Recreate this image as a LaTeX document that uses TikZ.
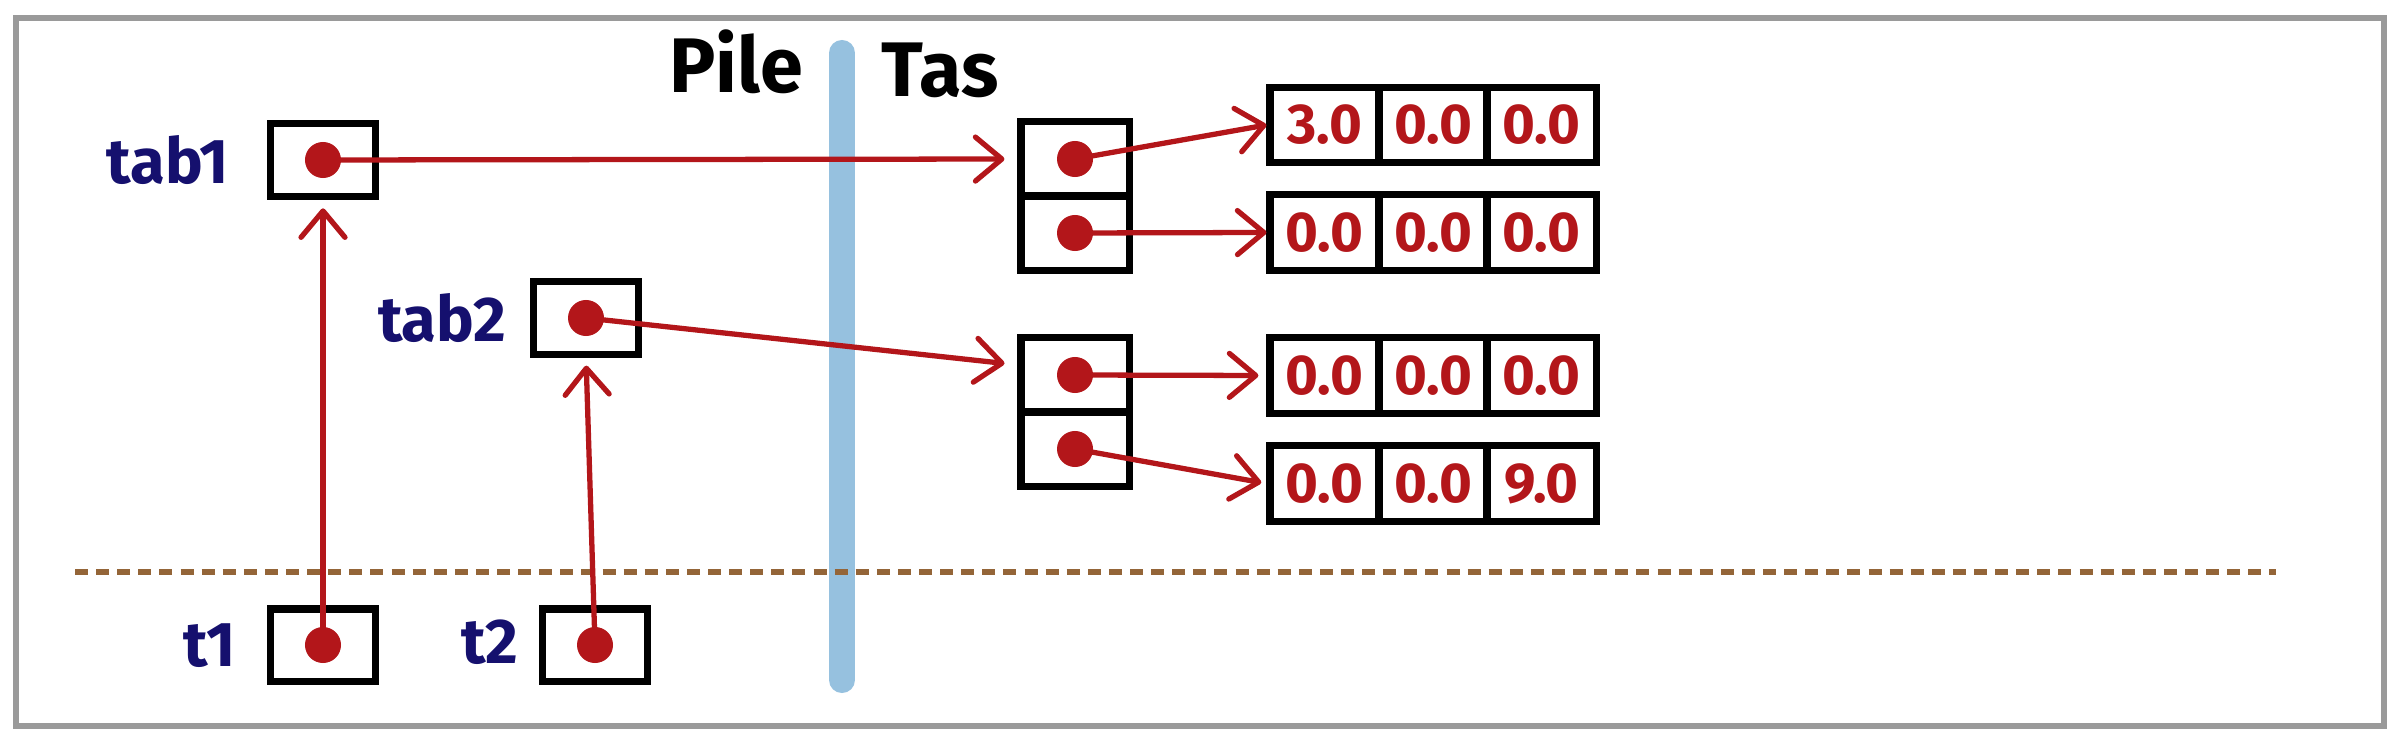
\documentclass[tikz,border=0pt]{standalone}
\usepackage{fontspec}
\setmainfont{Fira Sans}
\usetikzlibrary{arrows.meta}
\definecolor{ptrred}{HTML}{B3161A}
\definecolor{navyc}{HTML}{15106E}
\definecolor{barblue}{HTML}{96C1DF}
\definecolor{sepbrown}{HTML}{946538}
\definecolor{framegray}{HTML}{9A9A9A}
\begin{document}
\begin{tikzpicture}[x=0.01cm,y=-0.01cm,
  ptrbox/.style={draw=black, line width=2pt, minimum width=1.04cm, minimum height=0.72cm, inner sep=0pt},
  pcell/.style={draw=black, line width=2pt, minimum width=1.08cm, minimum height=0.74cm, inner sep=0pt},
  dcell/.style={draw=black, line width=2pt, minimum width=1.09cm, minimum height=0.75cm, inner sep=0pt,
                text=ptrred, font=\fontsize{16}{16}\selectfont\bfseries},
  ptdot/.style={circle, fill=ptrred, minimum size=0.36cm, inner sep=0pt},
  varlabel/.style={text=navyc, font=\fontsize{18}{18}\selectfont\bfseries, inner sep=0pt},
  zonelabel/.style={text=black, font=\fontsize{22}{22}\selectfont\bfseries, inner sep=0pt},
  refarrow/.style={draw=ptrred, line width=1.5pt, -{Straight Barb[length=7.5pt,width=12.5pt,round]}}
]
\useasboundingbox (0,0) rectangle (2392,740);
% frame
\draw[framegray, line width=1.7pt] (16,18) rectangle (2384,726);
% stack / heap separator
\draw[barblue, line width=7.4pt, line cap=round] (842,53) -- (842,680);
% dashed separator
\draw[sepbrown, line width=1.7pt, dash pattern=on 3.7pt off 2.3pt] (75,572) -- (2276,572);

% zone labels
\node[zonelabel] (pile) at (736,62) {Pile};
\node[zonelabel] (tas) at (940,70) {Tas};

% stack variables
\node[ptrbox] (tab1) at (323,160) {};
\node[ptdot] (dtab1) at (tab1.center) {};
\node[varlabel] (ltab1) at (168,160) {tab1};

\node[ptrbox] (tab2) at (586,318) {};
\node[ptdot] (dtab2) at (tab2.center) {};
\node[varlabel] (ltab2) at (442,318) {tab2};

\node[ptrbox] (t1) at (323,645) {};
\node[ptdot] (dt1) at (t1.center) {};
\node[varlabel] (lt1) at (210,646) {t1};

\node[ptrbox] (t2) at (595,645) {};
\node[ptdot] (dt2) at (t2.center) {};
\node[varlabel] (lt2) at (490,642) {t2};

% heap pointer arrays
\node[pcell] (p1a) at (1075,159) {};
\node[pcell] (p1b) at (1075,233) {};
\node[pcell] (p2a) at (1075,375) {};
\node[pcell] (p2b) at (1075,449) {};
\node[ptdot] (dp1a) at (p1a.center) {};
\node[ptdot] (dp1b) at (p1b.center) {};
\node[ptdot] (dp2a) at (p2a.center) {};
\node[ptdot] (dp2b) at (p2b.center) {};

% heap double arrays
\node[dcell] (a1c1) at (1324.5,125) {3.0};
\node[dcell] (a1c2) at (1433,125) {0.0};
\node[dcell] (a1c3) at (1541.5,125) {0.0};
\node[dcell] (a2c1) at (1324.5,232.5) {0.0};
\node[dcell] (a2c2) at (1433,232.5) {0.0};
\node[dcell] (a2c3) at (1541.5,232.5) {0.0};
\node[dcell] (a3c1) at (1324.5,375.5) {0.0};
\node[dcell] (a3c2) at (1433,375.5) {0.0};
\node[dcell] (a3c3) at (1541.5,375.5) {0.0};
\node[dcell] (a4c1) at (1324.5,483.5) {0.0};
\node[dcell] (a4c2) at (1433,483.5) {0.0};
\node[dcell] (a4c3) at (1541.5,483.5) {9.0};

% references
\draw[refarrow, shorten >=2.5pt] (dt1.center) -- (tab1.south);
\draw[refarrow, shorten >=2.3pt] (dt2.center) -- (tab2.south);
\draw[refarrow, shorten >=3.7pt] (dtab1.center) -- (p1a.west);
\draw[refarrow, shorten >=3.7pt] (dtab2.center) -- (p2a.170);
\draw[refarrow] (dp1a.center) -- (a1c1.west);
\draw[refarrow] (dp1b.center) -- (a2c1.west);
\draw[refarrow, shorten >=2.3pt] (dp2a.center) -- (a3c1.west);
\draw[refarrow, shorten >=1.5pt] (dp2b.center) -- (a4c1.west);
\end{tikzpicture}
\end{document}
